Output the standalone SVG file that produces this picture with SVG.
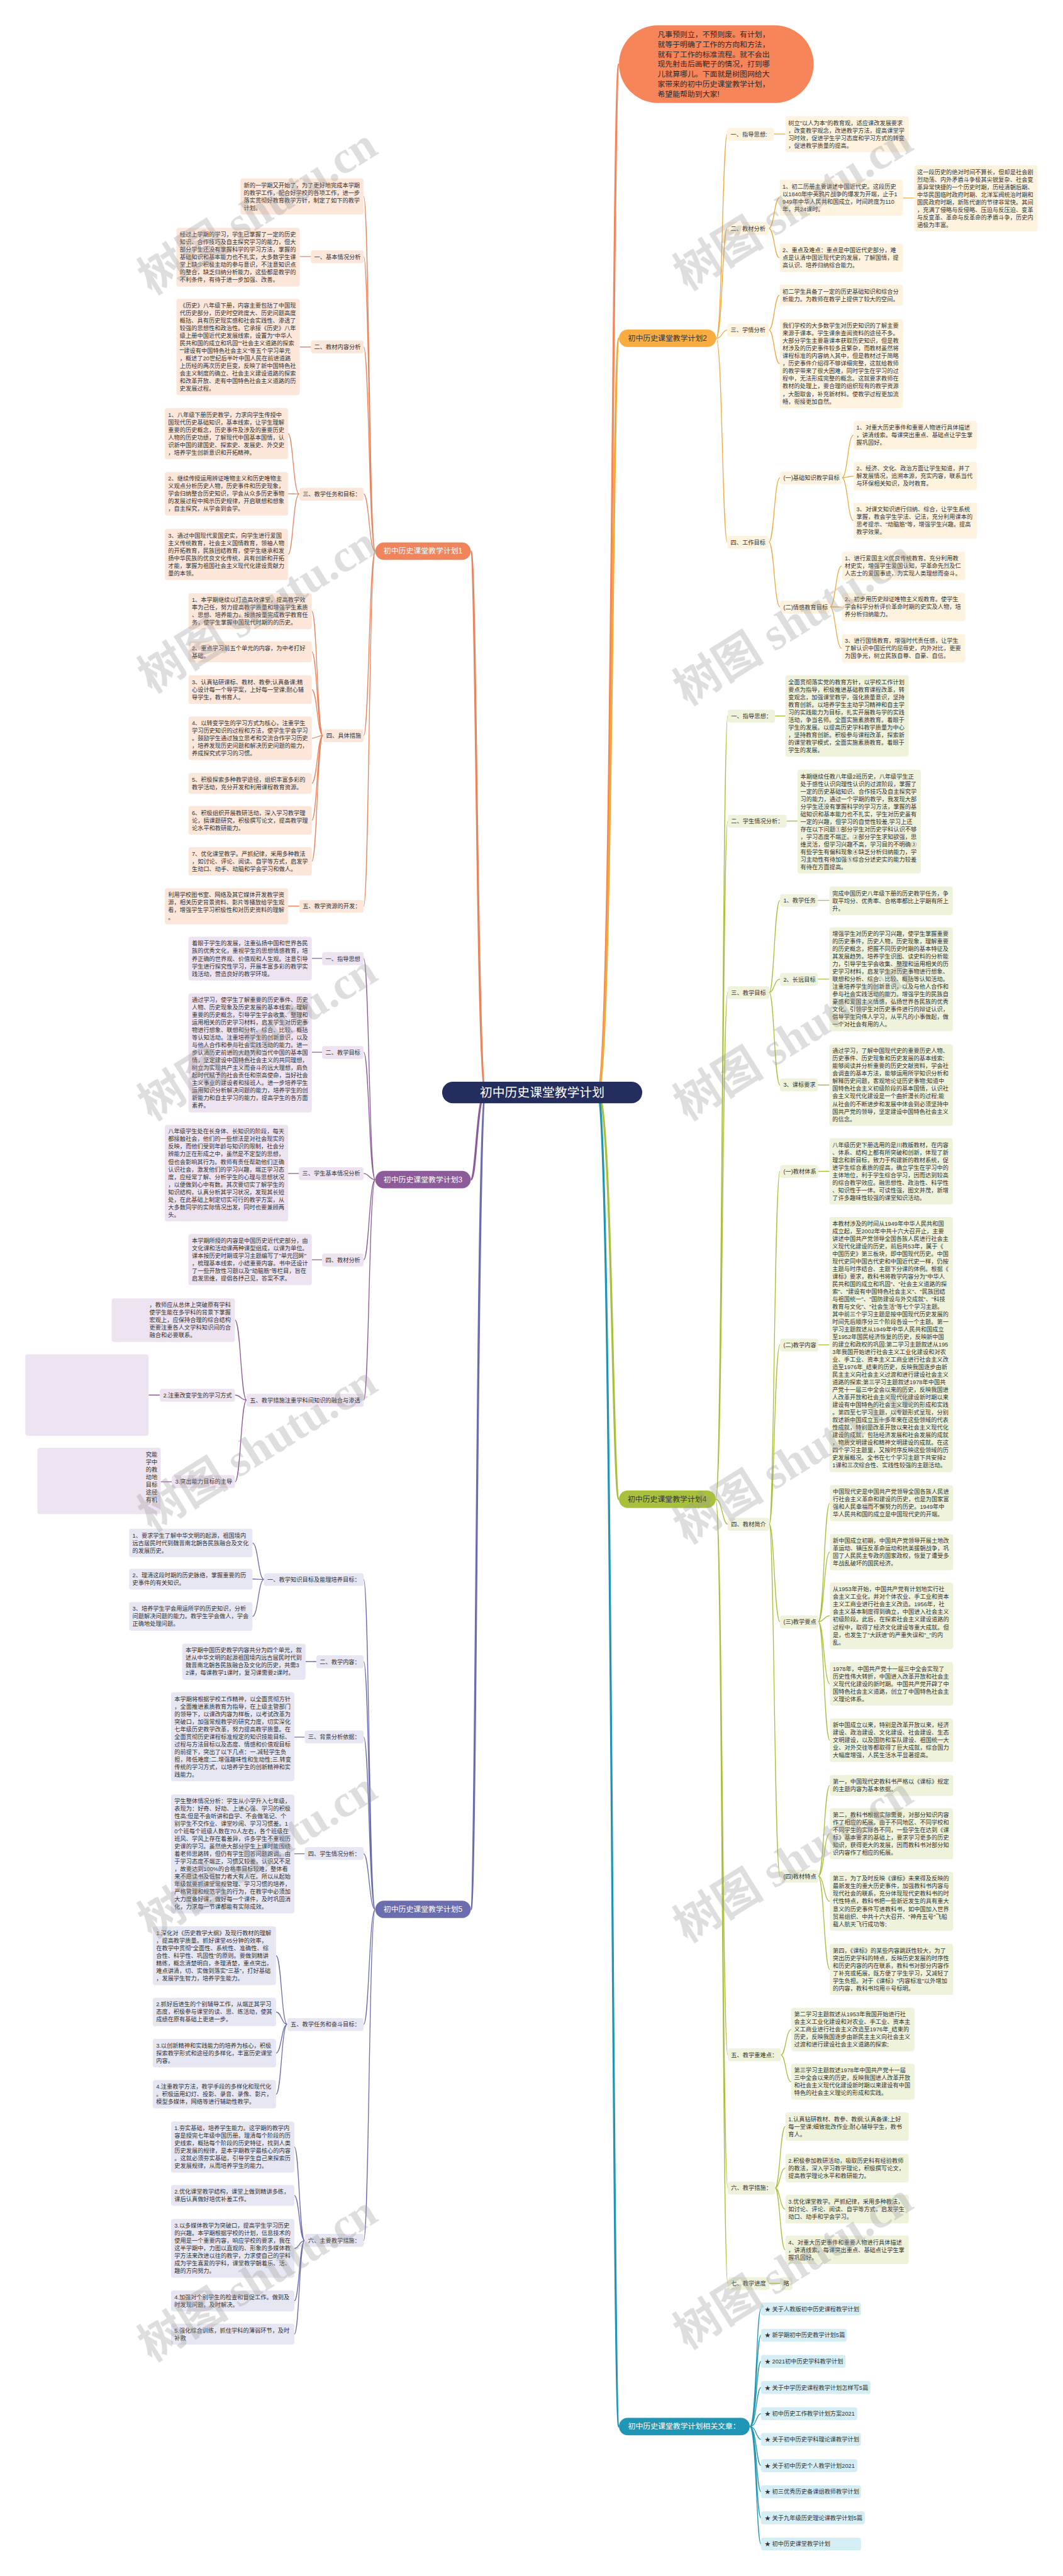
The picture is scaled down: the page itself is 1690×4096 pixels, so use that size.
<svg xmlns="http://www.w3.org/2000/svg" width="1690" height="4096" viewBox="0 0 1690 4096">
<style>
text{font-family:'Liberation Sans','Noto Sans CJK SC',sans-serif;font-size:14px;fill:#333}
.n{font-size:18px}
.w{fill:#fff}
.c{font-size:30px;fill:#fff}
.i{font-size:18px;fill:#2b2b2b}
.lk{fill:none;stroke-width:2}
.m{fill:none;stroke-width:5}
.a{stroke:#E9845C}.af{fill:#FDE6DA}
.o{stroke:#F2A93B}.of{fill:#FEF3DF}
.p{stroke:#8D5B99}.pf{fill:#EEE3F0}
.s{stroke:#6C6DAE}.sf{fill:#E7E7F3}
.g{stroke:#A7C13C}.gf{fill:#EFF3DC}
.r{stroke:#1F96B5}.rf{fill:#D5EDF4}
.wm{font-family:'Liberation Serif','Noto Sans CJK SC',serif;font-size:110px;font-weight:bold;fill:#9a9a9a;opacity:0.32}
</style>
<rect width="1690" height="4096" fill="#fff"/>
<g transform="scale(0.66)">

<g id="connectors">
<path class="m a" d="M1170,2632 C1148,2632 1148,1328 1134,1328"/>
<path class="m p" d="M1170,2632 C1148,2632 1148,2842 1134,2842"/>
<path class="m s" d="M1170,2632 C1148,2632 1148,4600 1134,4600"/>
<path class="m" stroke="#F7855A" d="M1440,2632 C1475,2632 1475,155 1491,155"/>
<path class="m o" d="M1440,2632 C1475,2632 1475,815 1491,815"/>
<path class="m g" d="M1440,2632 C1475,2632 1475,3612 1491,3612"/>
<path class="m r" d="M1440,2632 C1475,2632 1475,5846 1491,5846"/>
<path class="lk a" d="M904,1328 C889,1328 889,473 876,473 M904,1328 C889,1328 889,618 876,618 M904,1328 C889,1328 889,836 876,836 M904,1328 C889,1328 889,1190 876,1190 M904,1328 C889,1328 889,1772 876,1772 M904,1328 C889,1328 889,2183 876,2183 M749,618 L722,618 M749,836 L722,836 M721,1190 C706,1190 706,1044.6 694,1044.6 M721,1190 C706,1190 706,1189.5 694,1189.5 M721,1190 C706,1190 706,1335.6 694,1335.6 M778,1772 C764,1772 764,1472.4 751,1472.4 M778,1772 C764,1772 764,1570.2 751,1570.2 M778,1772 C764,1772 764,1661.3 751,1661.3 M778,1772 C764,1772 764,1778.5 751,1778.5 M778,1772 C764,1772 764,1887.2 751,1887.2 M778,1772 C764,1772 764,1976.3 751,1976.3 M778,1772 C764,1772 764,2075.3 751,2075.3 M721,2183 L694,2183"/>
<path class="lk o" d="M1725,815 C1740,815 1740,323 1752,323 M1725,815 C1740,815 1740,550 1752,550 M1725,815 C1740,815 1740,795 1752,795 M1725,815 C1740,815 1740,1306 1752,1306 M1864,323 L1892,323 M1852,550 C1865,550 1865,476.4 1878,476.4 M1852,550 C1865,550 1865,621.3 1878,621.3 M2175,477 L2202,477 M1852,795 C1865,795 1865,711.2 1878,711.2 M1852,795 C1865,795 1865,876.1 1878,876.1 M1852,1306 C1865,1306 1865,1151 1879,1151 M1852,1306 C1865,1306 1865,1462 1879,1462 M2028,1151 C2042,1151 2042,1048.3 2056,1048.3 M2028,1151 C2042,1151 2042,1147.3 2056,1147.3 M2028,1151 C2042,1151 2042,1254.4 2056,1254.4 M1999,1462 C2013,1462 2013,1363.3 2028,1363.3 M1999,1462 C2013,1462 2013,1462.3 2028,1462.3 M1999,1462 C2013,1462 2013,1562.3 2028,1562.3"/>
<path class="lk p" d="M904,2842 C889,2842 889,2309 876,2309 M904,2842 C889,2842 889,2535 876,2535 M904,2842 C889,2842 889,2827 876,2827 M904,2842 C889,2842 889,3035 876,3035 M904,2842 C889,2842 889,3373 876,3373 M776,2309 L751,2309 M776,2535 L751,2535 M720,2827 L694,2827 M776,3035 L751,3035 M594,3373 C580,3373 580,3180 566,3180 M594,3373 C580,3373 580,3361 566,3361 M594,3373 C580,3373 580,3570 566,3570 M385,3361 L358,3361 M414,3570 L387,3570"/>
<path class="lk s" d="M904,4600 C889,4600 889,3805 876,3805 M904,4600 C889,4600 889,4003 876,4003 M904,4600 C889,4600 889,4185 876,4185 M904,4600 C889,4600 889,4466 876,4466 M904,4600 C889,4600 889,4877 876,4877 M904,4600 C889,4600 889,5398 876,5398 M636,3805 C622,3805 622,3717.3 608,3717.3 M636,3805 C622,3805 622,3804.2 608,3804.2 M636,3805 C622,3805 622,3894.3 608,3894.3 M762,4003 L736,4003 M734,4185 L709,4185 M734,4466 L709,4466 M692,4877 C678,4877 678,4711.7 665,4711.7 M692,4877 C678,4877 678,4847.3 665,4847.3 M692,4877 C678,4877 678,4946.3 665,4946.3 M692,4877 C678,4877 678,5045.3 665,5045.3 M734,5398 C721,5398 721,5172.6 709,5172.6 M734,5398 C721,5398 721,5289.2 709,5289.2 M734,5398 C721,5398 721,5416.7 709,5416.7 M734,5398 C721,5398 721,5543.2 709,5543.2 M734,5398 C721,5398 721,5623.2 709,5623.2"/>
<path class="lk g" d="M1724,3612 C1740,3612 1740,1725 1753,1725 M1724,3612 C1740,3612 1740,1978 1753,1978 M1724,3612 C1740,3612 1740,2391 1753,2391 M1724,3612 C1740,3612 1740,3672 1753,3672 M1724,3612 C1740,3612 1740,4951 1753,4951 M1724,3612 C1740,3612 1740,5271 1753,5271 M1724,3612 C1740,3612 1740,5501 1753,5501 M1867,1725 L1892,1725 M1895,1978 L1921,1978 M1853,2391 C1865,2391 1865,2169 1879,2169 M1853,2391 C1865,2391 1865,2359 1879,2359 M1853,2391 C1865,2391 1865,2614 1879,2614 M1970,2169 L1998,2169 M1970,2359 L1998,2359 M1970,2614 L1998,2614 M1853,3672 C1865,3672 1865,2822 1879,2822 M1853,3672 C1865,3672 1865,3240 1879,3240 M1853,3672 C1865,3672 1865,3907 1879,3907 M1853,3672 C1865,3672 1865,4520 1879,4520 M1971,2822 L1998,2822 M1971,3240 L1998,3240 M1971,3907 C1985,3907 1985,3621.4 1999,3621.4 M1971,3907 C1985,3907 1985,3739.4 1999,3739.4 M1971,3907 C1985,3907 1985,3892.8 1999,3892.8 M1971,3907 C1985,3907 1985,4056.5 1999,4056.5 M1971,3907 C1985,3907 1985,4192.5 1999,4192.5 M1971,4520 C1985,4520 1985,4301.2 1999,4301.2 M1971,4520 C1985,4520 1985,4417.6 1999,4417.6 M1971,4520 C1985,4520 1985,4580.7 1999,4580.7 M1971,4520 C1985,4520 1985,4744.6 1999,4744.6 M1881,4951 C1893,4951 1893,4889.5 1906,4889.5 M1881,4951 C1893,4951 1893,5015.4 1906,5015.4 M1867,5271 C1879,5271 1879,5123.3 1892,5123.3 M1867,5271 C1879,5271 1879,5223.3 1892,5223.3 M1867,5271 C1879,5271 1879,5322.3 1892,5322.3 M1867,5271 C1879,5271 1879,5420.3 1892,5420.3 M1853,5501 L1879,5501"/>
<path class="lk r" d="M1806,5846 C1822,5846 1822,5563 1833,5563 M1806,5846 C1822,5846 1822,5626 1833,5626 M1806,5846 C1822,5846 1822,5689 1833,5689 M1806,5846 C1822,5846 1822,5752 1833,5752 M1806,5846 C1822,5846 1822,5815 1833,5815 M1806,5846 C1822,5846 1822,5877 1833,5877 M1806,5846 C1822,5846 1822,5940 1833,5940 M1806,5846 C1822,5846 1822,6003 1833,6003 M1806,5846 C1822,5846 1822,6066 1833,6066 M1806,5846 C1822,5846 1822,6129 1833,6129"/>
</g>

<g id="center">
<rect x="1065" y="2606" width="482" height="52" rx="26" fill="#232E5E"/>
<text class="c" x="1306" y="2642" text-anchor="middle">初中历史课堂教学计划</text>
</g>

<g id="intro">
<rect x="1491" y="61" width="469" height="187" rx="93.5" fill="#F7855A"/>
<text class="i" x="1584" y="89.3"><tspan x="1584">凡事预则立，不预则废。有计划，</tspan><tspan x="1584" dy="24">就等于明确了工作的方向和方法，</tspan><tspan x="1584" dy="24">就有了工作的标准流程。就不会出</tspan><tspan x="1584" dy="24">现先射击后画靶子的情况，打到哪</tspan><tspan x="1584" dy="24">儿就算哪儿。下面就是树图网给大</tspan><tspan x="1584" dy="24">家带来的初中历史课堂教学计划，</tspan><tspan x="1584" dy="24">希望能帮助到大家!</tspan></text>
</g>

<g id="plan1">
<rect x="904" y="1307" width="230" height="42" rx="21" fill="#F0855C"/>
<text class="n w" x="1019" y="1334" text-anchor="middle">初中历史课堂教学计划1</text>
</g>
<g id="p1-intro">
<rect class="af" x="579" y="430" width="297" height="86.8" rx="6"/>
<text x="587" y="451"><tspan x="587">新的一学期又开始了，为了更好地完成本学期</tspan><tspan x="587" dy="18.2">的教学工作，配合好学校的各项工作，进一步</tspan><tspan x="587" dy="18.2">落实贯彻好教育教学方针，制定了如下的教学</tspan><tspan x="587" dy="18.2">计划。</tspan></text>
</g>
<g id="p1-l1">
<rect class="af" x="749" y="603" width="127" height="31" rx="6"/>
<text x="757" y="623.5">一、基本情况分析</text>
<rect class="af" x="425" y="549" width="297" height="141.4" rx="6"/>
<text x="433" y="570"><tspan x="433">经过上学期的学习，学生已掌握了一定的历史</tspan><tspan x="433" dy="18.2">知识、合作技巧及自主探究学习的能力，但大</tspan><tspan x="433" dy="18.2">部分学生还没有掌握科学的学习方法，掌握的</tspan><tspan x="433" dy="18.2">基础知识和基本能力也不扎实，大多数学生课</tspan><tspan x="433" dy="18.2">堂上缺少积极主动的参与意识，不注意知识点</tspan><tspan x="433" dy="18.2">的整合，缺乏归纳分析能力，这些都是教学的</tspan><tspan x="433" dy="18.2">不利条件，有待于进一步加强、改善。</tspan></text>
</g>
<g id="p1-l2">
<rect class="af" x="749" y="820" width="127" height="31" rx="6"/>
<text x="757" y="840.5">二、教材内容分析</text>
<rect class="af" x="425" y="720" width="297" height="232.4" rx="6"/>
<text x="433" y="741"><tspan x="433">《历史》八年级下册，内容主要包括了中国现</tspan><tspan x="433" dy="18.2">代历史部分，历史时空跨度大、历史问题高度</tspan><tspan x="433" dy="18.2">概括、具有历史现实感和社会实践性、渗透了</tspan><tspan x="433" dy="18.2">较强的思想性和政治性。它承接《历史》八年</tspan><tspan x="433" dy="18.2">级上册中国近代史发展线索，设置为"中华人</tspan><tspan x="433" dy="18.2">民共和国的成立和巩固""社会主义道路的探索</tspan><tspan x="433" dy="18.2">""建设有中国特色社会主义"等五个学习单元</tspan><tspan x="433" dy="18.2">，概述了20世纪后半叶中国人民在前进道路</tspan><tspan x="433" dy="18.2">上历经的两次历史巨变，反映了新中国特色社</tspan><tspan x="433" dy="18.2">会主义制度的确立、社会主义建设道路的探索</tspan><tspan x="433" dy="18.2">和改革开放、走有中国特色社会主义道路的历</tspan><tspan x="433" dy="18.2">史发展过程。</tspan></text>
</g>
<g id="p1-l3">
<rect class="af" x="721" y="1175" width="155" height="31" rx="6"/>
<text x="729" y="1195.5">三、教学任务和目标：</text>
<rect class="af" x="397" y="983" width="297" height="123.2" rx="6"/>
<text x="405" y="1004"><tspan x="405">1、八年级下册历史教学，力求向学生传授中</tspan><tspan x="405" dy="18.2">国现代历史基础知识，基本线索，让学生理解</tspan><tspan x="405" dy="18.2">重要的历史概念，历史事件及涉及的重要历史</tspan><tspan x="405" dy="18.2">人物的历史功绩，了解现代中国基本国情，认</tspan><tspan x="405" dy="18.2">识新中国的建国史、探索史、发展史、外交史</tspan><tspan x="405" dy="18.2">，培养学生创新意识和开拓精神。</tspan></text>
<rect class="af" x="397" y="1137" width="297" height="105" rx="6"/>
<text x="405" y="1158"><tspan x="405">2、继续传授运用辨证唯物主义和历史唯物主</tspan><tspan x="405" dy="18.2">义观点分析历史人物，历史事件和历史现象，</tspan><tspan x="405" dy="18.2">学会归纳整合历史知识，学会从众多历史事物</tspan><tspan x="405" dy="18.2">的发展过程中揭示历史规律，开启联想和想象</tspan><tspan x="405" dy="18.2">，自主探究，从学会到会学。</tspan></text>
<rect class="af" x="397" y="1274" width="297" height="123.2" rx="6"/>
<text x="405" y="1295"><tspan x="405">3、通过中国现代爱国史实，向学生进行爱国</tspan><tspan x="405" dy="18.2">主义传统教育，社会主义国情教育，领袖人物</tspan><tspan x="405" dy="18.2">的开拓教育，民族团结教育，使学生继承和发</tspan><tspan x="405" dy="18.2">扬中华民族的优良文化传统，具有创新和开拓</tspan><tspan x="405" dy="18.2">才能，掌握为祖国社会主义现代化建设贡献力</tspan><tspan x="405" dy="18.2">量的本领。</tspan></text>
</g>
<g id="p1-l4">
<rect class="af" x="778" y="1757" width="98" height="31" rx="6"/>
<text x="786" y="1777.5">四、具体措施</text>
<rect class="af" x="454" y="1429" width="297" height="86.8" rx="6"/>
<text x="462" y="1450"><tspan x="462">1、本学期继续以打造高效课堂，提高教学效</tspan><tspan x="462" dy="18.2">率为己任，努力提高教学质量和增强学生素质</tspan><tspan x="462" dy="18.2">、思想、培养能力，按质按量完成教学教育任</tspan><tspan x="462" dy="18.2">务，使学生掌握中国现代时期的的历史。</tspan></text>
<rect class="af" x="454" y="1545" width="297" height="50.4" rx="6"/>
<text x="462" y="1566"><tspan x="462">2、重点学习前五个单元的内容，为中考打好</tspan><tspan x="462" dy="18.2">基础。</tspan></text>
<rect class="af" x="454" y="1627" width="297" height="68.6" rx="6"/>
<text x="462" y="1648"><tspan x="462">3、认真钻研课标、教材、教参;认真备课;精</tspan><tspan x="462" dy="18.2">心设计每一个导学案，上好每一堂课;耐心辅</tspan><tspan x="462" dy="18.2">导学生，教书育人。</tspan></text>
<rect class="af" x="454" y="1726" width="297" height="105" rx="6"/>
<text x="462" y="1747"><tspan x="462">4、以转变学生的学习方式为核心，注重学生</tspan><tspan x="462" dy="18.2">学习历史知识的过程和方法，使学生学会学习</tspan><tspan x="462" dy="18.2">。鼓励学生通过独立思考和交流合作学习历史</tspan><tspan x="462" dy="18.2">，培养发现历史问题和解决历史问题的能力，</tspan><tspan x="462" dy="18.2">养成探究式学习的习惯。</tspan></text>
<rect class="af" x="454" y="1862" width="297" height="50.4" rx="6"/>
<text x="462" y="1883"><tspan x="462">5、积极探索多种教学途径，组织丰富多彩的</tspan><tspan x="462" dy="18.2">教学活动，充分开发和利用课程教育资源。</tspan></text>
<rect class="af" x="454" y="1942" width="297" height="68.6" rx="6"/>
<text x="462" y="1963"><tspan x="462">6、积极组织开展教研活动，深入学习教学理</tspan><tspan x="462" dy="18.2">论，搞课题研究，积极撰写论文，提高教学理</tspan><tspan x="462" dy="18.2">论水平和教研能力。</tspan></text>
<rect class="af" x="454" y="2041" width="297" height="68.6" rx="6"/>
<text x="462" y="2062"><tspan x="462">7、优化课堂教学。严抓纪律，采用多种教法</tspan><tspan x="462" dy="18.2">，如讨论、评论、阅读、自学等方式，启发学</tspan><tspan x="462" dy="18.2">生动口、动手、动脑和学会学习和做人。</tspan></text>
</g>
<g id="p1-l5">
<rect class="af" x="721" y="2168" width="155" height="31" rx="6"/>
<text x="729" y="2188.5">五、教学资源的开发：</text>
<rect class="af" x="397" y="2140" width="297" height="86.8" rx="6"/>
<text x="405" y="2161"><tspan x="405">利用学校图书室、网络及其它媒体开发教学资</tspan><tspan x="405" dy="18.2">源，相关历史背景资料、影片等播放给学生观</tspan><tspan x="405" dy="18.2">看，增强学生学习积极性和对历史资料的理解</tspan><tspan x="405" dy="18.2">。</tspan></text>
</g>

<g id="plan2">
<rect x="1491" y="794" width="234" height="42" rx="21" fill="#F9AD40"/>
<text class="n" x="1608" y="821" text-anchor="middle">初中历史课堂教学计划2</text>
</g>
<g id="p2-l1">
<rect class="of" x="1752" y="308" width="112" height="31" rx="6"/>
<text x="1760" y="328.5">一、指导思想:</text>
<rect class="of" x="1892" y="280" width="297" height="86.8" rx="6"/>
<text x="1899" y="301"><tspan x="1899">树立"以人为本"的教育观，适应课改发展要求</tspan><tspan x="1899" dy="18.2">，改变教学观念，改进教学方法，提高课堂学</tspan><tspan x="1899" dy="18.2">习时效，促进学生学习态度和学习方式的转变</tspan><tspan x="1899" dy="18.2">，促进教学质量的提高。</tspan></text>
</g>
<g id="p2-l2">
<rect class="of" x="1752" y="535" width="100" height="31" rx="6"/>
<text x="1760" y="555.5">二、教材分析</text>
<rect class="of" x="1878" y="433" width="297" height="86.8" rx="6"/>
<text x="1885" y="454"><tspan x="1885">1、初二历册主要讲述中国近代史。这段历史</tspan><tspan x="1885" dy="18.2">以1840年中英鸦片战争的爆发为开端，止于1</tspan><tspan x="1885" dy="18.2">949年中华人民共和国成立，时间跨度为110</tspan><tspan x="1885" dy="18.2">年，共24课时。</tspan></text>
<rect class="of" x="2202" y="398" width="297" height="159.6" rx="6"/>
<text x="2209" y="419"><tspan x="2209">这一段历史的绝对时间不算长，但却是社会剧</tspan><tspan x="2209" dy="18.2">烈动荡、内外矛盾斗争极其尖锐复杂、社会变</tspan><tspan x="2209" dy="18.2">革异常快捷的一个历史时期，历经清朝后期、</tspan><tspan x="2209" dy="18.2">中华民国临时政府时期、北洋军阀统治时期和</tspan><tspan x="2209" dy="18.2">国民政府时期，新陈代谢的节律非常快。其间</tspan><tspan x="2209" dy="18.2">，充满了侵略与反侵略、压迫与反压迫、变革</tspan><tspan x="2209" dy="18.2">与反变革、革命与反革命的矛盾斗争，历史内</tspan><tspan x="2209" dy="18.2">涵极为丰富。</tspan></text>
<rect class="of" x="1878" y="587" width="297" height="68.6" rx="6"/>
<text x="1885" y="608"><tspan x="1885">2、重点及难点：重点是中国近代史部分，难</tspan><tspan x="1885" dy="18.2">点是认清中国近现代史的发展，了解国情，提</tspan><tspan x="1885" dy="18.2">高认识、培养归纳综合能力。</tspan></text>
</g>
<g id="p2-l3">
<rect class="of" x="1752" y="780" width="100" height="31" rx="6"/>
<text x="1760" y="800.5">三、学情分析</text>
<rect class="of" x="1878" y="686" width="297" height="50.4" rx="6"/>
<text x="1885" y="707"><tspan x="1885">初二学生具备了一定的历史基础知识和综合分</tspan><tspan x="1885" dy="18.2">析能力。为教师在教学上提供了较大的空间。</tspan></text>
<rect class="of" x="1878" y="769" width="297" height="214.2" rx="6"/>
<text x="1885" y="790"><tspan x="1885">我们学校的大多数学生对历史知识的了解主要</tspan><tspan x="1885" dy="18.2">来源于课本。学生课余查阅资料的途径不多。</tspan><tspan x="1885" dy="18.2">大部分学生主要靠课本获取历史知识，但是教</tspan><tspan x="1885" dy="18.2">材涉及的历史事件较多且繁杂，而教材虽然将</tspan><tspan x="1885" dy="18.2">课程标准的内容纳入其中，但是教材过于简略</tspan><tspan x="1885" dy="18.2">，历史事件介绍得不够详细完整，这就给教师</tspan><tspan x="1885" dy="18.2">的教学带来了很大困难，同时学生在学习的过</tspan><tspan x="1885" dy="18.2">程中，无法形成完整的概念。这就要求教师在</tspan><tspan x="1885" dy="18.2">教材的处理上，要合理的组织现有的教学资源</tspan><tspan x="1885" dy="18.2">，大胆取舍，补充新材料。使教学过程更加流</tspan><tspan x="1885" dy="18.2">畅，衔接更加自然。</tspan></text>
</g>
<g id="p2-l4">
<rect class="of" x="1752" y="1291" width="100" height="31" rx="6"/>
<text x="1760" y="1311.5">四、工作目标</text>
<rect class="of" x="1879" y="1136" width="149" height="31" rx="6"/>
<text x="1887" y="1156.5">(一)基础知识教学目标</text>
<rect class="of" x="2056" y="1014" width="297" height="68.6" rx="6"/>
<text x="2063" y="1035"><tspan x="2063">1、对重大历史事件和重要人物进行具体描述</tspan><tspan x="2063" dy="18.2">，讲清线索。每课突出重点、基础点让学生掌</tspan><tspan x="2063" dy="18.2">握巩固好。</tspan></text>
<rect class="of" x="2056" y="1113" width="297" height="68.6" rx="6"/>
<text x="2063" y="1134"><tspan x="2063">2、经济、文化、政治方面让学生知道，并了</tspan><tspan x="2063" dy="18.2">解发展情况，追溯本源，充实内容，联系当代</tspan><tspan x="2063" dy="18.2">与环保相关知识，及时教育。</tspan></text>
<rect class="of" x="2056" y="1211" width="297" height="86.8" rx="6"/>
<text x="2063" y="1232"><tspan x="2063">3、对课文知识进行归纳、综合，让学生系统</tspan><tspan x="2063" dy="18.2">掌握，教会学生学法、记法，充分利用课本的</tspan><tspan x="2063" dy="18.2">思考提示、"动脑筋"等，增强学生兴趣。提高</tspan><tspan x="2063" dy="18.2">教学效果。</tspan></text>
<rect class="of" x="1879" y="1447" width="120" height="31" rx="6"/>
<text x="1887" y="1467.5">(二)情感教育目标</text>
<rect class="of" x="2028" y="1329" width="297" height="68.6" rx="6"/>
<text x="2035" y="1350"><tspan x="2035">1、进行爱国主义优良传统教育。充分利用教</tspan><tspan x="2035" dy="18.2">材史实，增强学生爱国认知，学革命先烈及仁</tspan><tspan x="2035" dy="18.2">人志士的爱国事迹，为实现人类理想而奋斗。</tspan></text>
<rect class="of" x="2028" y="1428" width="297" height="68.6" rx="6"/>
<text x="2035" y="1449"><tspan x="2035">2、初步用历史辩证唯物主义观教育。使学生</tspan><tspan x="2035" dy="18.2">学会科学分析评价革命时期的史实及人物，培</tspan><tspan x="2035" dy="18.2">养分析归纳能力。</tspan></text>
<rect class="of" x="2028" y="1528" width="297" height="68.6" rx="6"/>
<text x="2035" y="1549"><tspan x="2035">3、进行国情教育，增强时代责任感，让学生</tspan><tspan x="2035" dy="18.2">了解认识中国近代的屈辱史，内外对比，更要</tspan><tspan x="2035" dy="18.2">为国争光，树立民族自尊、自豪、自信。</tspan></text>
</g>

<g id="plan3">
<rect x="904" y="2821" width="230" height="42" rx="21" fill="#8D5B99"/>
<text class="n w" x="1019" y="2848" text-anchor="middle">初中历史课堂教学计划3</text>
</g>
<g id="p3-l1">
<rect class="pf" x="776" y="2294" width="100" height="31" rx="6"/>
<text x="784" y="2314.5">一、指导思想</text>
<rect class="pf" x="454" y="2257" width="297" height="105" rx="6"/>
<text x="462" y="2278"><tspan x="462">着眼于学生的发展，注重弘扬中国和世界各民</tspan><tspan x="462" dy="18.2">族的优秀文化，重视学生的思想情感教育，培</tspan><tspan x="462" dy="18.2">养正确的世界观、价值观和人生观。注意引导</tspan><tspan x="462" dy="18.2">学生进行探究性学习，开展丰富多彩的教学实</tspan><tspan x="462" dy="18.2">践活动，营造良好的教学环境。</tspan></text>
</g>
<g id="p3-l2">
<rect class="pf" x="776" y="2520" width="100" height="31" rx="6"/>
<text x="784" y="2540.5">二、教学目标</text>
<rect class="pf" x="454" y="2393" width="297" height="287" rx="6"/>
<text x="462" y="2414"><tspan x="462">通过学习，使学生了解重要的历史事件、历史</tspan><tspan x="462" dy="18.2">人物、历史现象及历史发展的基本线索，理解</tspan><tspan x="462" dy="18.2">重要的历史概念，引导学生学会收集、整理和</tspan><tspan x="462" dy="18.2">运用相关的历史学习材料，启发学生对历史事</tspan><tspan x="462" dy="18.2">物进行想象、联想和分析、综合、比较、概括</tspan><tspan x="462" dy="18.2">等认知活动。注重培养学生的创新意识，以及</tspan><tspan x="462" dy="18.2">与他人合作和参与社会实践活动的能力。进一</tspan><tspan x="462" dy="18.2">步认清历史前进的大趋势和当代中国的基本国</tspan><tspan x="462" dy="18.2">情，坚定建设中国特色社会主义的共同理想，</tspan><tspan x="462" dy="18.2">树立为实现共产主义而奋斗的远大理想，肩负</tspan><tspan x="462" dy="18.2">起时代赋予的社会责任和崇高使命，当好社会</tspan><tspan x="462" dy="18.2">主义事业的建设者和接班人。进一步培养学生</tspan><tspan x="462" dy="18.2">运用知识分析解决问题的能力，培养学生的创</tspan><tspan x="462" dy="18.2">新能力和自主学习的能力，提高学生的各方面</tspan><tspan x="462" dy="18.2">素养。</tspan></text>
</g>
<g id="p3-l3">
<rect class="pf" x="720" y="2812" width="156" height="31" rx="6"/>
<text x="728" y="2832.5">三、学生基本情况分析</text>
<rect class="pf" x="397" y="2710" width="297" height="232.4" rx="6"/>
<text x="405" y="2731"><tspan x="405">八年级学生处在长身体、长知识的阶段，每天</tspan><tspan x="405" dy="18.2">都接触社会，他们的一些想法是对社会现实的</tspan><tspan x="405" dy="18.2">反映，而他们受到年龄与知识的限制，社会分</tspan><tspan x="405" dy="18.2">辨能力正在形成之中，虽然是不定型的思想，</tspan><tspan x="405" dy="18.2">但也会影响其行为。教师有责任帮助他们正确</tspan><tspan x="405" dy="18.2">认识社会，激发他们的学习兴趣，端正学习态</tspan><tspan x="405" dy="18.2">度，应经常了解、分析学生的心理与思想状况</tspan><tspan x="405" dy="18.2">，以便做到心中有数。其次要切实了解学生的</tspan><tspan x="405" dy="18.2">知识结构，认真分析其学习状况，发现其长短</tspan><tspan x="405" dy="18.2">处，在此基础上制定切实可行的教学方案，从</tspan><tspan x="405" dy="18.2">大多数同学的实际情况出发，同时也要兼顾两</tspan><tspan x="405" dy="18.2">头。</tspan></text>
</g>
<g id="p3-l4">
<rect class="pf" x="776" y="3020" width="100" height="31" rx="6"/>
<text x="784" y="3040.5">四、教材分析</text>
<rect class="pf" x="454" y="2973" width="297" height="123.2" rx="6"/>
<text x="462" y="2994"><tspan x="462">本学期所授的内容是中国历史近代史部分，由</tspan><tspan x="462" dy="18.2">文化课和活动课两种课型组成，以课为单位。</tspan><tspan x="462" dy="18.2">课本按历史时期或学习主题编写了"单元回眸"</tspan><tspan x="462" dy="18.2">，梳理基本线索，小结重要内容。书中还设计</tspan><tspan x="462" dy="18.2">了一些开放性习题以及"动脑筋"等栏目，旨在</tspan><tspan x="462" dy="18.2">启发思维，提倡各抒己见，答案不求。</tspan></text>
</g>
<g id="p3-l5">
<rect class="pf" x="594" y="3358" width="282" height="31" rx="6"/>
<text x="602" y="3378.5">五、教学措施注重学科间知识的融合与渗透</text>
<rect class="pf" x="269" y="3128" width="297" height="105" rx="6"/>
<text x="360" y="3149"><tspan x="360">，教师应从总体上突破原有学科</tspan><tspan x="360" dy="18.2">使学生能在多学科的背景下掌握</tspan><tspan x="360" dy="18.2">宏观上，应保持合理的综合结构</tspan><tspan x="360" dy="18.2">更要注重各人文学科知识间的合</tspan><tspan x="360" dy="18.2">融合和必要联系。</tspan></text>
<rect class="pf" x="385" y="3346" width="181" height="31" rx="6"/>
<text x="393" y="3366.5">2.注重改变学生的学习方式</text>
<rect class="pf" x="61" y="3263" width="297" height="196" rx="6"/>
<rect class="pf" x="414" y="3554" width="152" height="31" rx="6"/>
<text x="422" y="3574.5">3.突出能力目标的主导</text>
<rect class="pf" x="90" y="3488" width="297" height="159.6" rx="6"/>
<text x="379" y="3509" text-anchor="end"><tspan x="379">究能</tspan><tspan x="379" dy="18.2">学中</tspan><tspan x="379" dy="18.2">的教</tspan><tspan x="379" dy="18.2">动地</tspan><tspan x="379" dy="18.2">目标</tspan><tspan x="379" dy="18.2">途径</tspan><tspan x="379" dy="18.2">有机</tspan></text>
</g>

<g id="plan5">
<rect x="904" y="4579" width="230" height="42" rx="21" fill="#6C6DAE"/>
<text class="n w" x="1019" y="4606" text-anchor="middle">初中历史课堂教学计划5</text>
</g>
<g id="p5-l1">
<rect class="sf" x="636" y="3790" width="240" height="31" rx="6"/>
<text x="644" y="3810.5">一、教学知识目标及能理培养目标：</text>
<rect class="sf" x="311" y="3683" width="297" height="68.6" rx="6"/>
<text x="319" y="3704"><tspan x="319">1、要求学生了解中华文明的起源，祖国境内</tspan><tspan x="319" dy="18.2">远古居民时代到魏晋南北朝各民族融合及文化</tspan><tspan x="319" dy="18.2">的发展历史。</tspan></text>
<rect class="sf" x="311" y="3779" width="297" height="50.4" rx="6"/>
<text x="319" y="3800"><tspan x="319">2、理清这段时期的历史脉络，掌握重要的历</tspan><tspan x="319" dy="18.2">史事件的有关知识。</tspan></text>
<rect class="sf" x="311" y="3860" width="297" height="68.6" rx="6"/>
<text x="319" y="3881"><tspan x="319">3、培养学生学会用运所学的历史知识，分析</tspan><tspan x="319" dy="18.2">问题解决问题的能力。教学生学会做人，学会</tspan><tspan x="319" dy="18.2">正确地处理问题。</tspan></text>
</g>
<g id="p5-l2">
<rect class="sf" x="762" y="3988" width="114" height="31" rx="6"/>
<text x="770" y="4008.5">二、教学内容：</text>
<rect class="sf" x="439" y="3960" width="297" height="86.8" rx="6"/>
<text x="447" y="3981"><tspan x="447">本学期中国历史教学内容共分为四个单元，叙</tspan><tspan x="447" dy="18.2">述从中华文明的起源祖国境内远古居民时代到</tspan><tspan x="447" dy="18.2">魏晋南北朝各民族融合及文化的历史，共需3</tspan><tspan x="447" dy="18.2">2课，每课教学1课时，复习课需要2课时。</tspan></text>
</g>
<g id="p5-l3">
<rect class="sf" x="734" y="4169" width="142" height="31" rx="6"/>
<text x="742" y="4189.5">三、背景分析依据：</text>
<rect class="sf" x="412" y="4077" width="297" height="214.2" rx="6"/>
<text x="420" y="4098"><tspan x="420">本学期将根据学校工作精神，以全面贯彻方针</tspan><tspan x="420" dy="18.2">，全面推进素质教育为指导，在上级主管部门</tspan><tspan x="420" dy="18.2">的领导下，以课改内容为样板，以考试改革为</tspan><tspan x="420" dy="18.2">突破口，加强常规教学的研究力度，切实深化</tspan><tspan x="420" dy="18.2">七年级历史教学改革，努力提高教学质量。在</tspan><tspan x="420" dy="18.2">全面贯彻历史课程标准规定的知识技能目标、</tspan><tspan x="420" dy="18.2">过程与方法目标以及态度、情感和价值观目标</tspan><tspan x="420" dy="18.2">的前提下，突出了以下几点：一.减轻学生负</tspan><tspan x="420" dy="18.2">担，降低难度;二.增强趣味性和生动性;三.转变</tspan><tspan x="420" dy="18.2">传统的学习方式，以培养学生的创新精神和实</tspan><tspan x="420" dy="18.2">践能力。</tspan></text>
</g>
<g id="p5-l4">
<rect class="sf" x="734" y="4450" width="142" height="31" rx="6"/>
<text x="742" y="4470.5">四、学生情况分析：</text>
<rect class="sf" x="412" y="4323" width="297" height="287" rx="6"/>
<text x="420" y="4344"><tspan x="420">学生整体情况分析：学生从小学升入七年级，</tspan><tspan x="420" dy="18.2">表现为：好奇、好动、上进心强、学习的积极</tspan><tspan x="420" dy="18.2">性高;但是不会听讲和自学、不会做笔记、个</tspan><tspan x="420" dy="18.2">别学生不交作业、课堂吵闹、学习习惯差。1</tspan><tspan x="420" dy="18.2">0个班每个班级人数在70人左右，各个班级在</tspan><tspan x="420" dy="18.2">班风、学风上存在着差异，许多学生不重视历</tspan><tspan x="420" dy="18.2">史课的学习。虽然绝大部分学生上课时能围绕</tspan><tspan x="420" dy="18.2">着老师思路转，但仍有学生回答问题跑调。由</tspan><tspan x="420" dy="18.2">于学习态度不端正，习惯又较差，认识又不足</tspan><tspan x="420" dy="18.2">，故要达到100%的合格率目标较难，整体看</tspan><tspan x="420" dy="18.2">来不愿读书及低智力者大有人在。所以从起始</tspan><tspan x="420" dy="18.2">年级就要抓课堂常规管理、学习习惯的培养，</tspan><tspan x="420" dy="18.2">严格管理和规范学生的行为，在教学中必须加</tspan><tspan x="420" dy="18.2">大力度备好课，做好每一个课件，及时巩固消</tspan><tspan x="420" dy="18.2">化，力求每一节课都能有实际成效。</tspan></text>
</g>
<g id="p5-l5">
<rect class="sf" x="692" y="4862" width="184" height="31" rx="6"/>
<text x="700" y="4882.5">五、教学任务和奋斗目标：</text>
<rect class="sf" x="368" y="4641" width="297" height="141.4" rx="6"/>
<text x="376" y="4662"><tspan x="376">1.深化对《历史教学大纲》及现行教材的理解</tspan><tspan x="376" dy="18.2">，提高教学质量。抓好课堂45分钟的效率，</tspan><tspan x="376" dy="18.2">在教学中贯彻"全面性、系统性、准确性、综</tspan><tspan x="376" dy="18.2">合性、科学性、巩固性"的原则。要做到精讲</tspan><tspan x="376" dy="18.2">精练，概念清楚明白，条理清楚，重点突出，</tspan><tspan x="376" dy="18.2">难点讲清，切、实做到落实"三基"，打好基础</tspan><tspan x="376" dy="18.2">，发展学生智力，培养学生能力。</tspan></text>
<rect class="sf" x="368" y="4813" width="297" height="68.6" rx="6"/>
<text x="376" y="4834"><tspan x="376">2.抓好后进生的个别辅导工作，从端正其学习</tspan><tspan x="376" dy="18.2">态度，积极参与课堂的读、思、练活动，使其</tspan><tspan x="376" dy="18.2">成绩在原有基础上更进一步。</tspan></text>
<rect class="sf" x="368" y="4912" width="297" height="68.6" rx="6"/>
<text x="376" y="4933"><tspan x="376">3.以创新精神和实践能力的培养为核心，积极</tspan><tspan x="376" dy="18.2">探索教学形式和途径的多样化，丰富历史课堂</tspan><tspan x="376" dy="18.2">内容。</tspan></text>
<rect class="sf" x="368" y="5011" width="297" height="68.6" rx="6"/>
<text x="376" y="5032"><tspan x="376">4.注重教学方法，教学手段的多样化和现代化</tspan><tspan x="376" dy="18.2">。积极运用幻灯、投影、录音、录像、影片，</tspan><tspan x="376" dy="18.2">模型多媒体，网络等进行辅助性教学。</tspan></text>
</g>
<g id="p5-l6">
<rect class="sf" x="734" y="5382" width="142" height="31" rx="6"/>
<text x="742" y="5402.5">六、主要教学措施：</text>
<rect class="sf" x="412" y="5111" width="297" height="123.2" rx="6"/>
<text x="420" y="5132"><tspan x="420">1.夯实基础，培养学生能力。这学期的教学内</tspan><tspan x="420" dy="18.2">容是授完七年级中国历册。理清每个阶段的历</tspan><tspan x="420" dy="18.2">史线索，概括每个阶段的历史特征，找到人类</tspan><tspan x="420" dy="18.2">历史发展的规律，是本学期教学最核心的内容</tspan><tspan x="420" dy="18.2">。这就必须夯实基础，引导学生自己来探索历</tspan><tspan x="420" dy="18.2">史发展规律，从而培养学生的能力。</tspan></text>
<rect class="sf" x="412" y="5264" width="297" height="50.4" rx="6"/>
<text x="420" y="5285"><tspan x="420">2.优化课堂教学结构，课堂上做到精讲多练，</tspan><tspan x="420" dy="18.2">课后认真做好培优补差工作。</tspan></text>
<rect class="sf" x="412" y="5346" width="297" height="141.4" rx="6"/>
<text x="420" y="5367"><tspan x="420">3.以多媒体教学为突破口，提高学生学习历史</tspan><tspan x="420" dy="18.2">的兴趣。本学期根据学校的计划，信息技术的</tspan><tspan x="420" dy="18.2">使用是一个重要内容，响应学校的要求，我在</tspan><tspan x="420" dy="18.2">这半学期中，力图以直观的、形象的多媒体教</tspan><tspan x="420" dy="18.2">学方法来改进以往的教学，力求使自己的学科</tspan><tspan x="420" dy="18.2">成为学生喜爱的学科，课堂教学朝着乐、活、</tspan><tspan x="420" dy="18.2">趣的方向努力。</tspan></text>
<rect class="sf" x="412" y="5518" width="297" height="50.4" rx="6"/>
<text x="420" y="5539"><tspan x="420">4.加强对个别学生的检查和督促工作。做到及</tspan><tspan x="420" dy="18.2">时发现问题，及时解决。</tspan></text>
<rect class="sf" x="412" y="5598" width="297" height="50.4" rx="6"/>
<text x="420" y="5619"><tspan x="420">5.强化综合训练，抓住学科的薄弱环节，及时</tspan><tspan x="420" dy="18.2">补救</tspan></text>
</g>

<g id="plan4">
<rect x="1491" y="3591" width="233" height="42" rx="21" fill="#A7C13C"/>
<text class="n" x="1607" y="3618" text-anchor="middle">初中历史课堂教学计划4</text>
</g>
<g id="p4-l1">
<rect class="gf" x="1753" y="1710" width="114" height="31" rx="6"/>
<text x="1761" y="1730.5">一、指导思想：</text>
<rect class="gf" x="1892" y="1627" width="297" height="196" rx="6"/>
<text x="1899" y="1648"><tspan x="1899">全面贯彻落实党的教育方针，以学校工作计划</tspan><tspan x="1899" dy="18.2">要点为指导，积极推进基础教育课程改革，转</tspan><tspan x="1899" dy="18.2">变观念，加强课堂教学，强化质量意识，坚持</tspan><tspan x="1899" dy="18.2">教育创新。以培养学生主动学习精神和自主学</tspan><tspan x="1899" dy="18.2">习的实践能力为目标，扎实开展教与学的实践</tspan><tspan x="1899" dy="18.2">活动，争当名师。全面实施素质教育。着眼于</tspan><tspan x="1899" dy="18.2">学生的发展。以提高历史学科教学质量为中心</tspan><tspan x="1899" dy="18.2">，坚持教育创新。积极参与课程改革，探索新</tspan><tspan x="1899" dy="18.2">的课堂教学模式，全面实施素质教育。着眼于</tspan><tspan x="1899" dy="18.2">学生的发展。</tspan></text>
</g>
<g id="p4-l2">
<rect class="gf" x="1753" y="1963" width="142" height="31" rx="6"/>
<text x="1761" y="1983.5">二、学生情况分析：</text>
<rect class="gf" x="1921" y="1854" width="297" height="250.6" rx="6"/>
<text x="1928" y="1875"><tspan x="1928">本期继续任教八年级2班历史，八年级学生正</tspan><tspan x="1928" dy="18.2">处于感性认识向理性认识的过渡阶段，掌握了</tspan><tspan x="1928" dy="18.2">一定的历史基础知识、合作技巧及自主探究学</tspan><tspan x="1928" dy="18.2">习的能力，通过一个学期的教学，我发现大部</tspan><tspan x="1928" dy="18.2">分学生还没有掌握科学的学习方法，掌握的基</tspan><tspan x="1928" dy="18.2">础知识和基本能力也不扎实，学生对历史虽有</tspan><tspan x="1928" dy="18.2">一定的兴趣，但学习的自觉性较差,学习上还</tspan><tspan x="1928" dy="18.2">存在以下问题①部分学生对历史学科认识不够</tspan><tspan x="1928" dy="18.2">，学习态度不端正。②部分学生求知欲强，思</tspan><tspan x="1928" dy="18.2">维灵活，但学习兴趣不高，学习目的不明确③</tspan><tspan x="1928" dy="18.2">有些学生有偏科现象④缺乏分析归纳能力，学</tspan><tspan x="1928" dy="18.2">习主动性有待加强⑤综合分述史实的能力较差</tspan><tspan x="1928" dy="18.2">有待在方面提高。</tspan></text>
</g>
<g id="p4-l3">
<rect class="gf" x="1753" y="2376" width="100" height="31" rx="6"/>
<text x="1761" y="2396.5">三、教学目标</text>
<rect class="gf" x="1879" y="2154" width="91" height="31" rx="6"/>
<text x="1887" y="2174.5">1、教学任务</text>
<rect class="gf" x="1998" y="2136" width="297" height="68.6" rx="6"/>
<text x="2005" y="2157"><tspan x="2005">完成中国历史八年级下册的历史教学任务，争</tspan><tspan x="2005" dy="18.2">取平均分、优秀率、合格率都比上学期有所上</tspan><tspan x="2005" dy="18.2">升。</tspan></text>
<rect class="gf" x="1879" y="2344" width="91" height="31" rx="6"/>
<text x="1887" y="2364.5">2、长远目标</text>
<rect class="gf" x="1998" y="2234" width="297" height="250.6" rx="6"/>
<text x="2005" y="2255"><tspan x="2005">增强学生对历史的学习兴趣，使学生掌握重要</tspan><tspan x="2005" dy="18.2">的历史事件，历史人物，历史现象，理解重要</tspan><tspan x="2005" dy="18.2">的历史概念，把握不同历史时期的基本特征及</tspan><tspan x="2005" dy="18.2">其发展趋势。培养学生识图、读史料的分析能</tspan><tspan x="2005" dy="18.2">力，引导学生学会收集、整理和运用相关的历</tspan><tspan x="2005" dy="18.2">史学习材料，启发学生对历史事物进行想象、</tspan><tspan x="2005" dy="18.2">联想和分析、综合、比较、概括等认知活动。</tspan><tspan x="2005" dy="18.2">注重培养学生的创新意识，以及与他人合作和</tspan><tspan x="2005" dy="18.2">参与社会实践活动的能力。增强学生的民族自</tspan><tspan x="2005" dy="18.2">豪感和爱国主义情感，弘扬世界各民族的优秀</tspan><tspan x="2005" dy="18.2">文化。引领学生对历史事件进行的辩证认识，</tspan><tspan x="2005" dy="18.2">倡导学生向伟人学习，从平凡的小事做起，做</tspan><tspan x="2005" dy="18.2">一个对社会有用的人。</tspan></text>
<rect class="gf" x="1879" y="2598" width="91" height="31" rx="6"/>
<text x="1887" y="2618.5">3、课标要求</text>
<rect class="gf" x="1998" y="2516" width="297" height="196" rx="6"/>
<text x="2005" y="2537"><tspan x="2005">通过学习，了解中国现代史的重要历史人物、</tspan><tspan x="2005" dy="18.2">历史事件、历史现象和历史发展的基本线索;</tspan><tspan x="2005" dy="18.2">能够阅读并分析重要的历史文献资料，学会社</tspan><tspan x="2005" dy="18.2">会调查的基本方法，能够运用所学知识分析和</tspan><tspan x="2005" dy="18.2">解释历史问题，客观地论证历史事物;知道中</tspan><tspan x="2005" dy="18.2">国特色社会主义初级阶段的基本国情，认识社</tspan><tspan x="2005" dy="18.2">会主义现代化建设是一个曲折漫长的过程;能</tspan><tspan x="2005" dy="18.2">从社会的不断进步和发展中体会到必须坚持中</tspan><tspan x="2005" dy="18.2">国共产党的领导，坚定建设中国特色社会主义</tspan><tspan x="2005" dy="18.2">的信念。</tspan></text>
</g>
<g id="p4-l4">
<rect class="gf" x="1753" y="3657" width="100" height="31" rx="6"/>
<text x="1761" y="3677.5">四、教材简介</text>
<rect class="gf" x="1879" y="2807" width="92" height="31" rx="6"/>
<text x="1887" y="2827.5">(一)教材体系</text>
<rect class="gf" x="1998" y="2742" width="297" height="159.6" rx="6"/>
<text x="2005" y="2763"><tspan x="2005">八年级历史下册选用的是川教版教材，在内容</tspan><tspan x="2005" dy="18.2">、体系、结构上都有所突破和创新，体现了新</tspan><tspan x="2005" dy="18.2">理念和新目标，致力于构建新的教材系统，促</tspan><tspan x="2005" dy="18.2">进学生综合素质的提高，确立学生在学习中的</tspan><tspan x="2005" dy="18.2">主体地位，利于学生综合学习，因而达到较高</tspan><tspan x="2005" dy="18.2">的综合教学效应。融思想性、政治性、科学性</tspan><tspan x="2005" dy="18.2">、知识性于一体。可读性强，图文并茂，新增</tspan><tspan x="2005" dy="18.2">了许多趣味性较强的课堂知识活动。</tspan></text>
<rect class="gf" x="1879" y="3225" width="92" height="31" rx="6"/>
<text x="1887" y="3245.5">(二)教学内容</text>
<rect class="gf" x="1998" y="2932" width="297" height="614.6" rx="6"/>
<text x="2005" y="2953"><tspan x="2005">本教材涉及的时间从1949年中华人民共和国</tspan><tspan x="2005" dy="18.2">成立起，至2002年中共十六大召开止，主要</tspan><tspan x="2005" dy="18.2">讲述中国共产党领导全国各族人民进行社会主</tspan><tspan x="2005" dy="18.2">义现代化建设的历史，前后共53年，属于《</tspan><tspan x="2005" dy="18.2">中国历史》第三板块，即中国现代历史。中国</tspan><tspan x="2005" dy="18.2">现代史同中国古代史和中国近代史一样，仍按</tspan><tspan x="2005" dy="18.2">主题与时序结合、主题下分课的体例。根据《</tspan><tspan x="2005" dy="18.2">课标》要求，教科书将教学内容分为"中华人</tspan><tspan x="2005" dy="18.2">民共和国的成立和巩固"、"社会主义道路的探</tspan><tspan x="2005" dy="18.2">索"、"建设有中国特色社会主义"、"民族团结</tspan><tspan x="2005" dy="18.2">与祖国统一"、"国防建设与外交成就"、"科技</tspan><tspan x="2005" dy="18.2">教育与文化"、"社会生活"等七个学习主题。</tspan><tspan x="2005" dy="18.2">其中前三个学习主题是按中国现代历史发展的</tspan><tspan x="2005" dy="18.2">时间先后顺序分三个阶段各设一个主题。第一</tspan><tspan x="2005" dy="18.2">学习主题叙述从1949年中华人民共和国成立</tspan><tspan x="2005" dy="18.2">至1952年国民经济恢复的历史，反映新中国</tspan><tspan x="2005" dy="18.2">的建立和政权的巩固;第二学习主题叙述从195</tspan><tspan x="2005" dy="18.2">3年我国开始进行社会主义工业化建设和对农</tspan><tspan x="2005" dy="18.2">业、手工业、资本主义工商业进行社会主义改</tspan><tspan x="2005" dy="18.2">造至1976年_结束的历史，反映我国逐步由新</tspan><tspan x="2005" dy="18.2">民主主义向社会主义过渡和进行建设社会主义</tspan><tspan x="2005" dy="18.2">道路的探索;第三学习主题叙述1978年中国共</tspan><tspan x="2005" dy="18.2">产党十一届三中全会以来的历史，反映我国进</tspan><tspan x="2005" dy="18.2">人改革开放和社会主义现代化建设新时期以来</tspan><tspan x="2005" dy="18.2">建设有中国特色的社会主义理论的形成和实践</tspan><tspan x="2005" dy="18.2">。第四至七学习主题，以专题形式呈现，分别</tspan><tspan x="2005" dy="18.2">叙述新中国成立五十多年来在这些领域的代表</tspan><tspan x="2005" dy="18.2">性成就，特别是改革开放以来社会主义现代化</tspan><tspan x="2005" dy="18.2">建设的成就，包括经济发展和社会发展的成就</tspan><tspan x="2005" dy="18.2">，物质文明建设和精神文明建设的成就。在这</tspan><tspan x="2005" dy="18.2">四个学习主题里，又按时序反映这些领域的历</tspan><tspan x="2005" dy="18.2">史发展概况。全书在七个学习主题下共安排2</tspan><tspan x="2005" dy="18.2">1课和三次综合性、实践性较强的主题活动。</tspan></text>
<rect class="gf" x="1879" y="3892" width="92" height="31" rx="6"/>
<text x="1887" y="3912.5">(三)教学要点</text>
<rect class="gf" x="1999" y="3578" width="297" height="86.8" rx="6"/>
<text x="2006" y="3599"><tspan x="2006">中国现代史是中国共产党领导全国各族人民进</tspan><tspan x="2006" dy="18.2">行社会主义革命和建设的历史，也是为国家富</tspan><tspan x="2006" dy="18.2">强和人民幸福而不懈努力的历史。1949年中</tspan><tspan x="2006" dy="18.2">华人民共和国的成立是中国现代史的开端。</tspan></text>
<rect class="gf" x="1999" y="3696" width="297" height="86.8" rx="6"/>
<text x="2006" y="3717"><tspan x="2006">新中国成立初期，中国共产党领导开展土地改</tspan><tspan x="2006" dy="18.2">革运动、镇压反革命运动和抗美援朝战争，巩</tspan><tspan x="2006" dy="18.2">固了人民民主专政的国家政权，恢复了遭受多</tspan><tspan x="2006" dy="18.2">年战乱破坏的国民经济。</tspan></text>
<rect class="gf" x="1999" y="3813" width="297" height="159.6" rx="6"/>
<text x="2006" y="3834"><tspan x="2006">从1953年开始，中国共产党有计划地实行社</tspan><tspan x="2006" dy="18.2">会主义工业化，并对个体农业、手工业和资本</tspan><tspan x="2006" dy="18.2">主义工商业进行社会主义改造。1956年，社</tspan><tspan x="2006" dy="18.2">会主义基本制度得到确立，中国进入社会主义</tspan><tspan x="2006" dy="18.2">初级阶段。此后，在探索社会主义建设道路的</tspan><tspan x="2006" dy="18.2">过程中，取得了经济文化建设等重大成就。但</tspan><tspan x="2006" dy="18.2">是，也发生了"大跃进"的严重失误和"_"的内</tspan><tspan x="2006" dy="18.2">乱。</tspan></text>
<rect class="gf" x="1999" y="4004" width="297" height="105" rx="6"/>
<text x="2006" y="4025"><tspan x="2006">1978年，中国共产党十一届三中全会实现了</tspan><tspan x="2006" dy="18.2">历史性伟大转折，中国进入改革开放和社会主</tspan><tspan x="2006" dy="18.2">义现代化建设的新时期。中国共产党开辟了中</tspan><tspan x="2006" dy="18.2">国特色社会主义道路，创立了中国特色社会主</tspan><tspan x="2006" dy="18.2">义理论体系。</tspan></text>
<rect class="gf" x="1999" y="4140" width="297" height="105" rx="6"/>
<text x="2006" y="4161"><tspan x="2006">新中国成立以来，特别是改革开放以来，经济</tspan><tspan x="2006" dy="18.2">建设、政治建设、文化建设、社会建设、生态</tspan><tspan x="2006" dy="18.2">文明建设，以及国防和军队建设、祖国统一大</tspan><tspan x="2006" dy="18.2">业、对外交往等都取得了巨大成就，综合国力</tspan><tspan x="2006" dy="18.2">大幅度增强，人民生活水平显著提高。</tspan></text>
<rect class="gf" x="1879" y="4505" width="92" height="31" rx="6"/>
<text x="1887" y="4525.5">(四)教材特点</text>
<rect class="gf" x="1999" y="4276" width="297" height="50.4" rx="6"/>
<text x="2006" y="4297"><tspan x="2006">第一，中国现代史教科书严格以《课标》规定</tspan><tspan x="2006" dy="18.2">的主题内容为基本依据。</tspan></text>
<rect class="gf" x="1999" y="4356" width="297" height="123.2" rx="6"/>
<text x="2006" y="4377"><tspan x="2006">第二，教科书根据实际需要，对部分知识内容</tspan><tspan x="2006" dy="18.2">作了相应的拓展。由于不同地区、不同学校和</tspan><tspan x="2006" dy="18.2">不同学生的实际各不同，一些学生在达到《课</tspan><tspan x="2006" dy="18.2">标》基本要求的基础上，要求学习更多的历史</tspan><tspan x="2006" dy="18.2">知识，获得更大的发展，因而教科书对部分知</tspan><tspan x="2006" dy="18.2">识内容作了相应的拓展。</tspan></text>
<rect class="gf" x="1999" y="4510" width="297" height="141.4" rx="6"/>
<text x="2006" y="4531"><tspan x="2006">第三，为了及时反映《课标》未来得及反映的</tspan><tspan x="2006" dy="18.2">最新发生的重大历史事件，加强教科书内容与</tspan><tspan x="2006" dy="18.2">现代社会的联系，充分体现现代史教科书的时</tspan><tspan x="2006" dy="18.2">代性特点，教科书把一些新近发生的具有重大</tspan><tspan x="2006" dy="18.2">意义的历史事件写进教科书，如中国加入世界</tspan><tspan x="2006" dy="18.2">贸易组织、中共十六大召开、"神舟五号"飞船</tspan><tspan x="2006" dy="18.2">载人航天飞行成功等;</tspan></text>
<rect class="gf" x="1999" y="4683" width="297" height="123.2" rx="6"/>
<text x="2006" y="4704"><tspan x="2006">第四，《课标》的某些内容跳跃性较大，为了</tspan><tspan x="2006" dy="18.2">突出历史学科的特点，反映历史发展的时序性</tspan><tspan x="2006" dy="18.2">和历史内容的内在联系，教科书对部分内容作</tspan><tspan x="2006" dy="18.2">了补充或拓展，既方便了学生学习，又减轻了</tspan><tspan x="2006" dy="18.2">学生负担。对于《课标》"内容标准"以外增加</tspan><tspan x="2006" dy="18.2">的内容，教科书均用※号标明。</tspan></text>
</g>
<g id="p4-l5">
<rect class="gf" x="1753" y="4935" width="128" height="31" rx="6"/>
<text x="1761" y="4955.5">五、教学重难点：</text>
<rect class="gf" x="1906" y="4837" width="297" height="105" rx="6"/>
<text x="1913" y="4858"><tspan x="1913">第二学习主题叙述从1953年我国开始进行社</tspan><tspan x="1913" dy="18.2">会主义工业化建设和对农业、手工业、资本主</tspan><tspan x="1913" dy="18.2">义工商业进行社会主义改造至1976年_结束的</tspan><tspan x="1913" dy="18.2">历史，反映我国逐步由新民主主义向社会主义</tspan><tspan x="1913" dy="18.2">过渡和进行建设社会主义道路的探索;</tspan></text>
<rect class="gf" x="1906" y="4972" width="297" height="86.8" rx="6"/>
<text x="1913" y="4993"><tspan x="1913">第三学习主题叙述1978年中国共产党十一届</tspan><tspan x="1913" dy="18.2">三中全会以来的历史，反映我国进人改革开放</tspan><tspan x="1913" dy="18.2">和社会主义现代化建设新时期以来建设有中国</tspan><tspan x="1913" dy="18.2">特色的社会主义理论的形成和实践。</tspan></text>
</g>
<g id="p4-l6">
<rect class="gf" x="1753" y="5256" width="114" height="31" rx="6"/>
<text x="1761" y="5276.5">六、教学措施：</text>
<rect class="gf" x="1892" y="5089" width="297" height="68.6" rx="6"/>
<text x="1899" y="5110"><tspan x="1899">1.认真钻研教材、教参、教纲;认真备课;上好</tspan><tspan x="1899" dy="18.2">每一堂课;细致批改作业;耐心辅导学生，教书</tspan><tspan x="1899" dy="18.2">育人。</tspan></text>
<rect class="gf" x="1892" y="5189" width="297" height="68.6" rx="6"/>
<text x="1899" y="5210"><tspan x="1899">2.积极参加教研活动，吸取历史科有经验教师</tspan><tspan x="1899" dy="18.2">的教法，深入学习教学理论，积极撰写论文，</tspan><tspan x="1899" dy="18.2">提高教学理论水平和教研能力。</tspan></text>
<rect class="gf" x="1892" y="5288" width="297" height="68.6" rx="6"/>
<text x="1899" y="5309"><tspan x="1899">3.优化课堂教学。严抓纪律，采用多种教法，</tspan><tspan x="1899" dy="18.2">如讨论、评论、阅读、自学等方式，启发学生</tspan><tspan x="1899" dy="18.2">动口、动手和学会学习。</tspan></text>
<rect class="gf" x="1892" y="5386" width="297" height="68.6" rx="6"/>
<text x="1899" y="5407"><tspan x="1899">4、对重大历史事件和重要人物进行具体描述</tspan><tspan x="1899" dy="18.2">，讲清线索。每课突出重点、基础点让学生掌</tspan><tspan x="1899" dy="18.2">握巩固好。</tspan></text>
</g>
<g id="p4-l7">
<rect class="gf" x="1753" y="5486" width="100" height="31" rx="6"/>
<text x="1761" y="5506.5">七、教学进度</text>
<rect class="gf" x="1879" y="5486" width="30" height="31" rx="6"/>
<text x="1887" y="5506.5">略</text>
</g>

<g id="related">
<rect x="1491" y="5825" width="315" height="42" rx="21" fill="#1F96B5"/>
<text class="n w" x="1648" y="5852" text-anchor="middle">初中历史课堂教学计划相关文章：</text>
</g>
<g id="related-items">
<rect class="rf" x="1833" y="5547.5" width="241" height="31" rx="6"/><text x="1842" y="5568">★ 关于人教版初中历史课程教学计划</text>
<rect class="rf" x="1833" y="5610.5" width="207" height="31" rx="6"/><text x="1842" y="5631">★ 新学期初中历史教学计划5篇</text>
<rect class="rf" x="1833" y="5673.5" width="204" height="31" rx="6"/><text x="1842" y="5694">★ 2021初中历史学科教学计划</text>
<rect class="rf" x="1833" y="5736.5" width="264" height="31" rx="6"/><text x="1842" y="5757">★ 关于中学历史课程教学计划怎样写5篇</text>
<rect class="rf" x="1833" y="5799.5" width="232" height="31" rx="6"/><text x="1842" y="5820">★ 初中历史工作教学计划方案2021</text>
<rect class="rf" x="1833" y="5861.5" width="241" height="31" rx="6"/><text x="1842" y="5882">★ 关于初中历史学科理论课教学计划</text>
<rect class="rf" x="1833" y="5924.5" width="232" height="31" rx="6"/><text x="1842" y="5945">★ 关于初中历史个人教学计划2021</text>
<rect class="rf" x="1833" y="5987.5" width="241" height="31" rx="6"/><text x="1842" y="6008">★ 初三优秀历史备课组教师教学计划</text>
<rect class="rf" x="1833" y="6050.5" width="250" height="31" rx="6"/><text x="1842" y="6071">★ 关于九年级历史理论课教学计划5篇</text>
<rect class="rf" x="1833" y="6113.5" width="241" height="31" rx="6"/><text x="1842" y="6134">★ 初中历史课堂教学计划</text>
</g>

<g id="watermark">
<text class="wm" transform="translate(640,540) rotate(-32)" text-anchor="middle">树图 shutu.cn</text>
<text class="wm" transform="translate(640,1500) rotate(-32)" text-anchor="middle">树图 shutu.cn</text>
<text class="wm" transform="translate(640,2530) rotate(-32)" text-anchor="middle">树图 shutu.cn</text>
<text class="wm" transform="translate(640,3520) rotate(-32)" text-anchor="middle">树图 shutu.cn</text>
<text class="wm" transform="translate(640,4500) rotate(-32)" text-anchor="middle">树图 shutu.cn</text>
<text class="wm" transform="translate(640,5520) rotate(-32)" text-anchor="middle">树图 shutu.cn</text>
<text class="wm" transform="translate(1930,530) rotate(-32)" text-anchor="middle">树图 shutu.cn</text>
<text class="wm" transform="translate(1930,1530) rotate(-32)" text-anchor="middle">树图 shutu.cn</text>
<text class="wm" transform="translate(1930,2530) rotate(-32)" text-anchor="middle">树图 shutu.cn</text>
<text class="wm" transform="translate(1930,3550) rotate(-32)" text-anchor="middle">树图 shutu.cn</text>
<text class="wm" transform="translate(1930,4510) rotate(-32)" text-anchor="middle">树图 shutu.cn</text>
<text class="wm" transform="translate(1930,5490) rotate(-32)" text-anchor="middle">树图 shutu.cn</text>
</g>

</g>
</svg>
